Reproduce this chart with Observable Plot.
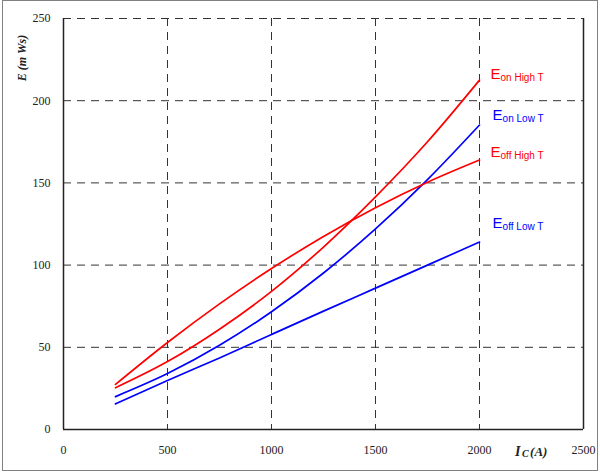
<!DOCTYPE html>
<html>
<head>
<meta charset="utf-8">
<script src="https://cdn.jsdelivr.net/npm/d3@7"></script>
<script src="https://cdn.jsdelivr.net/npm/@observablehq/plot@0.6"></script>
<style>
  html, body { margin: 0; padding: 0; background: #fff; }
  #wrap { position: relative; width: 600px; height: 473px; }
  #border { position: absolute; left: 2px; top: 0px; width: 594px; height: 469px; border: 1px solid #808080; pointer-events: none; }
  svg { display: block; }
</style>
</head>
<body>
<div id="wrap"><div id="border"></div></div>
<script>
const current = [250, 500, 750, 1000, 1250, 1500, 1750, 2000];
const eOnHigh  = [25.4, 41.3, 61, 84, 111, 141.5, 175, 212.5];
const eOffHigh = [27.4, 52.9, 76.4, 97.9, 117.4, 134.9, 150.4, 163.9];
const eOnLow   = [20, 34, 51.2, 71.6, 95.2, 122, 152, 185.2];
const eOffLow  = [15.6, 29.8, 43.5, 57.8, 72, 86, 100, 114];
const xTicks = [0, 500, 1000, 1500, 2000, 2500];
const yTicks = [0, 50, 100, 150, 200, 250];

const seriesDefs = [
  {name: "on High T", values: eOnHigh, color: "#ff0000", lx: 2053, ly: 213.5},
  {name: "on Low T", values: eOnLow, color: "#0000ff", lx: 2063, ly: 188},
  {name: "off High T", values: eOffHigh, color: "#ff0000", lx: 2053, ly: 165.5},
  {name: "off Low T", values: eOffLow, color: "#0000ff", lx: 2063, ly: 122.3}
];
const rows = seriesDefs.flatMap(s => current.map((c, i) => ({x: c, y: s.values[i], s: s.name, color: s.color})));

const serif = "'Liberation Serif', 'Times New Roman', serif";
const sans = "'Liberation Sans', Arial, sans-serif";

const plot = Plot.plot({
  width: 600,
  height: 473,
  marginLeft: 63,
  marginRight: 17,
  marginTop: 18,
  marginBottom: 44,
  style: {fontFamily: serif, fontSize: "12px", color: "#222", background: "#fff"},
  x: {domain: [0, 2500], ticks: xTicks, tickFormat: d3.format("d"), tickSize: 0, tickPadding: 16, label: null},
  y: {domain: [0, 250], ticks: yTicks, tickFormat: d3.format("d"), tickSize: 0, tickPadding: 13, label: null},
  marks: [
    Plot.gridX(xTicks.filter(d => d > 0 && d < 2500), {stroke: "#333", strokeOpacity: 1, strokeDasharray: "8,6"}),
    Plot.gridY(yTicks.filter(d => d > 0), {stroke: "#333", strokeOpacity: 1, strokeDasharray: "8,6"}),
    Plot.ruleX([0, 2500], {stroke: "#222", strokeWidth: 1.5}),
    Plot.ruleY([0], {stroke: "#222", strokeWidth: 1.5}),
    Plot.line(rows, {x: "x", y: "y", z: "s", stroke: "color", strokeWidth: 1.7, curve: "monotone-x"}),
    Plot.text(seriesDefs, {x: "lx", y: "ly", text: () => "E", fill: "color", fontFamily: sans, fontSize: 15, textAnchor: "start", lineAnchor: "bottom"}),
    Plot.text(seriesDefs, {x: "lx", y: "ly", text: "name", fill: "color", fontFamily: sans, fontSize: 10, textAnchor: "start", lineAnchor: "bottom", dx: 10, dy: 2}),
    Plot.text([{x: 2171, y: -16}], {x: "x", y: "y", text: () => "I", fontFamily: serif, fontWeight: "bold", fontStyle: "italic", fontSize: 14, textAnchor: "start", lineAnchor: "bottom"}),
    Plot.text([{x: 2171, y: -16}], {x: "x", y: "y", text: () => "C", fontFamily: serif, fontWeight: "bold", fontStyle: "italic", fontSize: 10, textAnchor: "start", lineAnchor: "bottom", dx: 7, dy: 1}),
    Plot.text([{x: 2171, y: -16}], {x: "x", y: "y", text: () => "(A)", fontFamily: serif, fontWeight: "bold", fontStyle: "italic", fontSize: 13, textAnchor: "start", lineAnchor: "bottom", dx: 15}),
    Plot.text([{x: -197, y: 226}], {x: "x", y: "y", text: () => "E (m Ws)", rotate: -90, fontFamily: serif, fontWeight: "bold", fontStyle: "italic", fontSize: 12})
  ]
});
document.getElementById("wrap").prepend(plot);
</script>
</body>
</html>
